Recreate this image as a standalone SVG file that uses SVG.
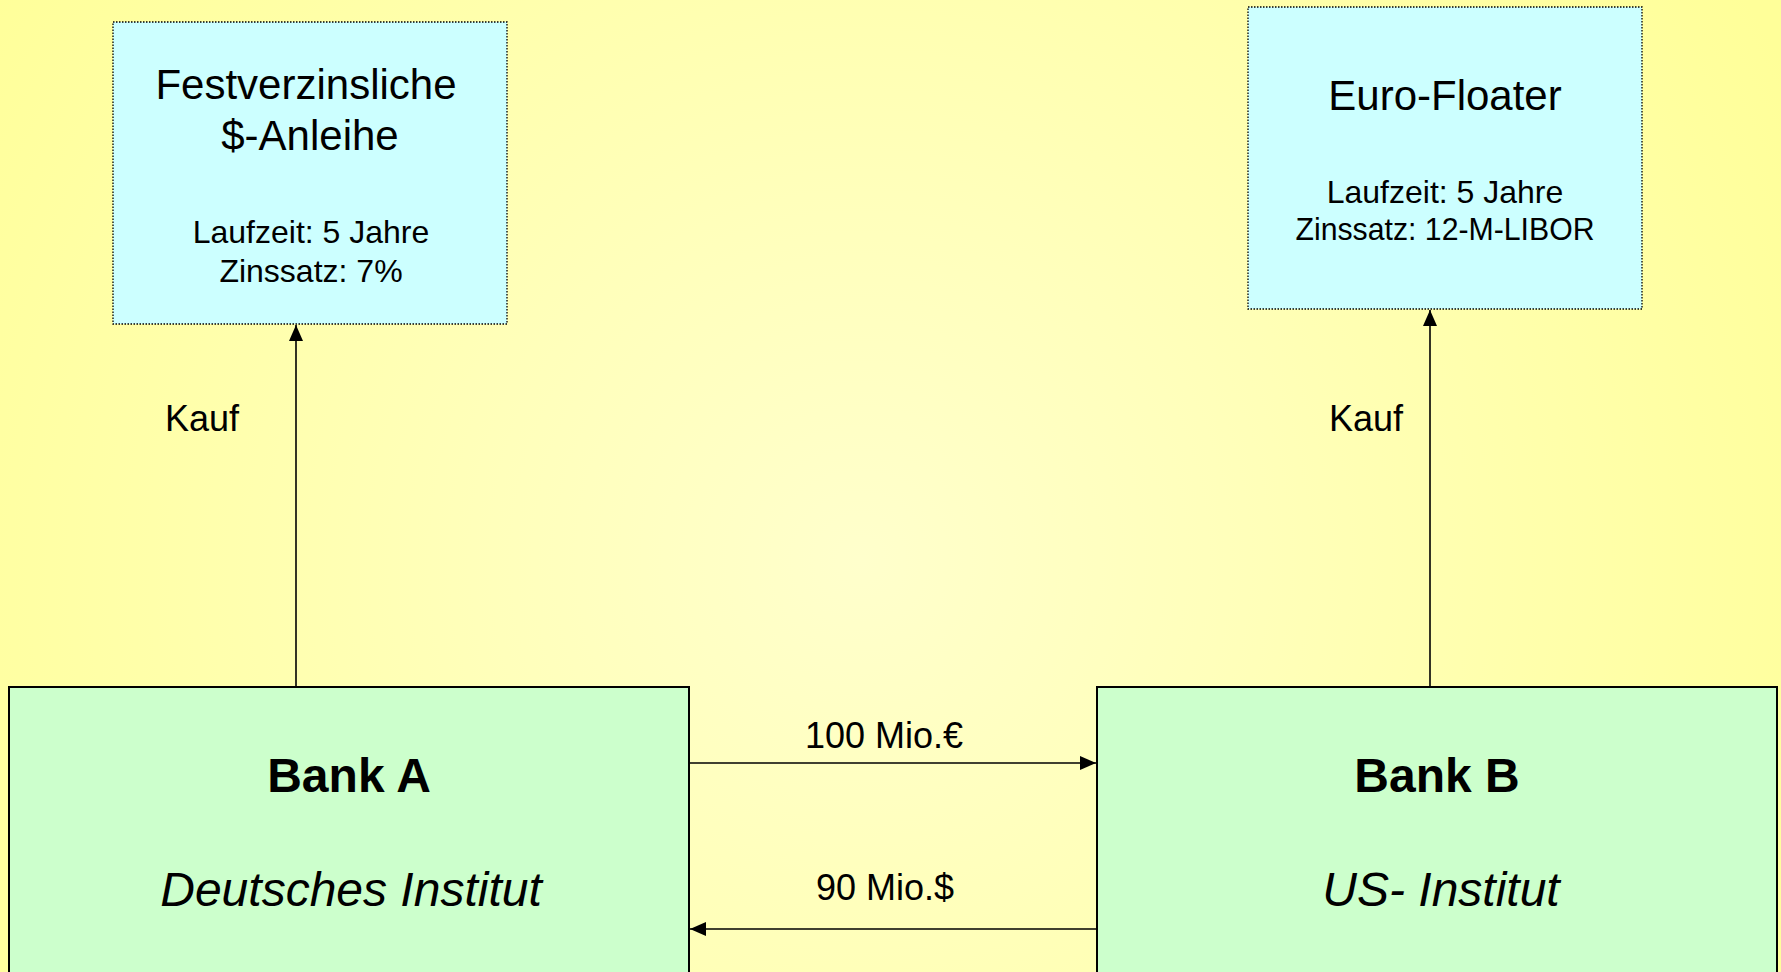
<svg xmlns="http://www.w3.org/2000/svg" width="1781" height="972" viewBox="0 0 1781 972">
  <defs>
    <radialGradient id="bg" cx="860" cy="560" r="1050" gradientUnits="userSpaceOnUse">
      <stop offset="0" stop-color="#FFFFCC"/>
      <stop offset="0.35" stop-color="#FFFFBB"/>
      <stop offset="1" stop-color="#FFFF99"/>
    </radialGradient>
    <marker id="arrow" viewBox="0 0 16 14" refX="16" refY="7" markerWidth="16" markerHeight="14" markerUnits="userSpaceOnUse" orient="auto">
      <path d="M0,0 L16,7 L0,14 Z" fill="#000"/>
    </marker>
    <style>
      text { font-family: "Liberation Sans", Arial, sans-serif; fill: #000; text-anchor: middle; }
      .bond { fill: #CCFFFF; stroke: #000; stroke-width: 1.3; stroke-dasharray: 1.5 1.5; }
      .bank { fill: #CCFFCC; stroke: #000; stroke-width: 2; }
      .title { font-size: 42px; }
      .detail { font-size: 32px; }
      .label { font-size: 36px; }
      .bankname { font-size: 48px; font-weight: bold; }
      .bankkind { font-size: 48px; font-style: italic; }
      .conn { stroke: #000; stroke-width: 1.6; fill: none; marker-end: url(#arrow); }
    </style>
  </defs>

  <rect x="0" y="0" width="1781" height="972" fill="url(#bg)"/>

  <g id="bond-fixed">
    <rect class="bond" x="113" y="22" width="394" height="302"/>
    <text class="title" x="306" y="99">Festverzinsliche</text>
    <text class="title" x="310" y="150">$-Anleihe</text>
    <text class="detail" x="311" y="243">Laufzeit: 5 Jahre</text>
    <text class="detail" x="311" y="282">Zinssatz: 7%</text>
  </g>

  <g id="bond-floater">
    <rect class="bond" x="1248" y="7" width="394" height="302"/>
    <text class="title" x="1445" y="110">Euro-Floater</text>
    <text class="detail" x="1445" y="203">Laufzeit: 5 Jahre</text>
    <text class="detail" x="1445" y="240" textLength="299" lengthAdjust="spacingAndGlyphs">Zinssatz: 12-M-LIBOR</text>
  </g>

  <g id="bank-a">
    <rect class="bank" x="9" y="687" width="680" height="300"/>
    <text class="bankname" x="349" y="792">Bank A</text>
    <text class="bankkind" x="351" y="906">Deutsches Institut</text>
  </g>

  <g id="bank-b">
    <rect class="bank" x="1097" y="687" width="680" height="300"/>
    <text class="bankname" x="1437" y="792">Bank B</text>
    <text class="bankkind" x="1441" y="906">US- Institut</text>
  </g>

  <g id="connectors">
    <line class="conn" x1="296" y1="687" x2="296" y2="325"/>
    <line class="conn" x1="1430" y1="687" x2="1430" y2="310"/>
    <line class="conn" x1="689" y1="763" x2="1096" y2="763"/>
    <line class="conn" x1="1097" y1="929" x2="690" y2="929"/>
    <text class="label" x="202" y="431">Kauf</text>
    <text class="label" x="1366" y="431">Kauf</text>
    <text class="label" x="884" y="748">100 Mio.€</text>
    <text class="label" x="885" y="900">90 Mio.$</text>
  </g>
</svg>
